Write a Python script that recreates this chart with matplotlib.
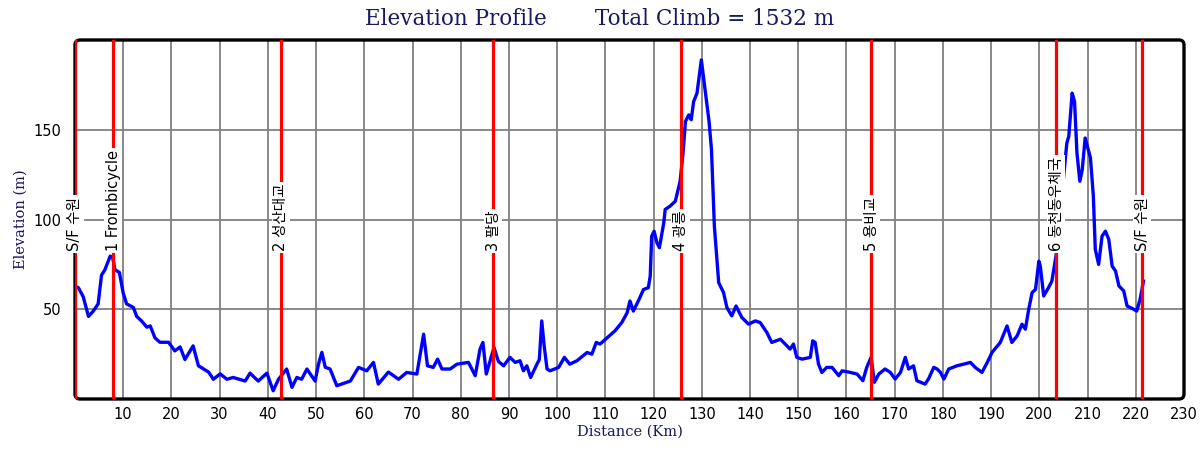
import matplotlib
matplotlib.use("Agg")
import matplotlib.pyplot as plt
from matplotlib.patches import FancyBboxPatch

# ---- data ----
distance_km = [
    0.0, 0.7, 1.7, 2.8, 3.8, 4.8, 5.5, 6.2, 7.3, 7.8, 8.3, 9.2, 10.0, 10.7, 12.1, 12.8,
    13.8, 14.9, 15.6, 16.6, 17.6, 19.4, 20.7, 21.8, 22.8, 24.5, 25.6, 27.7, 28.7, 30.1,
    31.5, 32.8, 35.3, 36.3, 38.0, 39.8, 41.1, 42.2, 43.9, 45.0, 46.0, 47.0, 48.1, 49.8,
    50.5, 51.2, 51.9, 52.9, 54.3, 57.1, 58.8, 60.5, 61.9, 62.9, 65.0, 67.1, 68.8, 70.9,
    72.3, 73.1, 74.3, 75.2, 76.1, 77.8, 79.2, 81.6, 83.0, 84.0, 84.6, 85.3, 86.9, 87.8,
    88.9, 90.2, 91.3, 92.3, 93.0, 93.7, 94.5, 95.8, 96.3, 96.8, 97.3, 97.9, 98.5, 100.3,
    101.5, 102.6, 104.1, 106.2, 107.2, 108.1, 108.9, 112.0, 113.4, 114.5, 115.1, 115.8,
    117.0, 117.9, 118.9, 119.3, 119.6, 120.1, 120.7, 121.2, 122.1, 122.4, 123.4, 124.5,
    125.5, 126.1, 126.6, 127.3, 127.8, 128.3, 129.0, 129.5, 129.9, 130.5, 131.5, 132.0,
    132.6, 133.5, 134.5, 135.2, 136.2, 137.1, 138.3, 139.7, 141.1, 142.1, 143.5, 144.5,
    146.3, 147.3, 148.3, 149.0, 149.7, 150.8, 152.5, 153.0, 153.5, 154.2, 154.9, 155.9,
    157.0, 158.4, 159.1, 160.8, 162.2, 163.4, 164.2, 165.1, 165.8, 166.7, 168.0, 169.1,
    170.1, 171.2, 172.2, 172.9, 173.9, 174.6, 176.3, 177.0, 178.1, 178.8, 179.5, 180.2,
    181.2, 182.9, 184.3, 185.7, 186.7, 188.1, 189.2, 190.2, 191.9, 193.3, 194.3, 195.4,
    196.4, 197.1, 197.8, 198.5, 199.2, 199.9, 200.2, 200.9, 201.9, 202.6, 203.5, 205.7,
    206.1, 206.8, 207.3, 207.8, 208.4, 208.9, 209.5, 210.6, 211.2, 211.6, 212.3, 213.0,
    213.7, 214.4, 215.1, 215.8, 216.5, 217.5, 218.2, 219.3, 220.2, 220.9, 221.6,
]
elevation_m = [
    63, 62, 57, 46, 49, 53, 69, 72, 79.6, 79, 72, 70.5, 59, 53, 51, 46,
    43.5, 40, 40.7, 34, 31.6, 31.6, 26.8, 29, 22, 29.6, 18.5, 15, 11, 14,
    11, 12, 10, 14.4, 10, 14.4, 4.6, 11, 16.7, 6.5, 12, 11, 16.7, 10,
    19.4, 26, 17.7, 16.7, 7.4, 10, 17.6, 15.7, 20.4, 8.3, 15, 11, 14.8, 13.9,
    36.1, 18.5, 17.6, 22.2, 16.7, 16.7, 19.4, 20.4, 13, 27.8, 31.5, 13.9, 28.7, 21,
    18.5, 23.2, 20.4, 21.3, 15.7, 18.5, 12, 19.4, 22, 43.5, 29.6, 16.7, 15.7, 17.6,
    23.2, 19.4, 21.3, 25.9, 25, 31.5, 30.6, 38, 42.6, 48, 54.6, 49,
    55.6, 61, 62, 68.5, 90.7, 93.5, 87, 84.3, 98, 105.6, 107.4, 110.2,
    121.3, 137, 154.6, 158.3, 155.6, 165.7, 170.4, 180.6, 188.9, 176, 154.6, 139,
    96.3, 64.8, 59.3, 51, 46.3, 51.8, 45.4, 41.7, 43.5, 42.6, 37, 31.5,
    33.3, 30.6, 27.8, 30.6, 23.2, 22.2, 23.2, 32.4, 31.5, 19.4, 14.8, 17.6,
    17.6, 13, 15.7, 14.8, 13.9, 10.2, 17.6, 23.2, 9.3, 13.9, 16.7, 14.8,
    11.1, 14.8, 23.2, 16.7, 18.5, 10.2, 8.3, 11.1, 17.6, 16.7, 14.8, 11.1,
    16.7, 18.5, 19.4, 20.4, 17.6, 14.8, 20.4, 26, 31.5, 40.7, 31.5, 35.2,
    41.7, 38.9, 50, 59.3, 61, 76.8, 74, 57.4, 62, 65.7, 80.5, 142.6,
    146.3, 170.4, 165.7, 137, 121.3, 127.8, 145.4, 134.3, 113, 83.3, 75, 90.7,
    93.5, 88.9, 74, 71.3, 63, 60.2, 51.8, 50.4, 49, 55.6, 65.7,
]

marker_km = [0.0, 7.9, 42.7, 86.7, 125.6, 165.1, 203.5, 221.3]
marker_labels = ["S/F 수원", "1 Frombicycle", "2 성산대교", "3 팔당", "4 광릉",
                 "5 용비교", "6 동천동우체국", "S/F 수원"]

x_ticks = list(range(10, 240, 10))
y_ticks = [50, 100, 150]
title_text = "Elevation Profile       Total Climb = 1532 m"
x_label = "Distance (Km)"
y_label = "Elevation (m)"

# ---- figure ----
navy = "#191960"
fig = plt.figure(figsize=(12, 4.5), dpi=100)
ax_l, ax_b, ax_w, ax_h = 75 / 1200, 51 / 450, 1109 / 1200, 359 / 450
ax = fig.add_axes([ax_l, ax_b, ax_w, ax_h])
ax.set_xlim(0, 230)
ax.set_ylim(0, 200)

for s in ax.spines.values():
    s.set_visible(False)

# grid
for xv in x_ticks:
    if xv < 230:
        ax.axvline(xv, color="#808080", lw=1.3, zorder=1)
for yv in y_ticks:
    ax.axhline(yv, color="#808080", lw=1.3, zorder=1)

# frame with rounded corners
frame = FancyBboxPatch((ax_l * 12, ax_b * 4.5), ax_w * 12, ax_h * 4.5,
                       boxstyle="round,pad=0,rounding_size=0.05",
                       transform=fig.dpi_scale_trans, fill=False,
                       edgecolor="black", lw=2.4, clip_on=False, zorder=2.5)
ax.add_artist(frame)

# profile
ax.plot(distance_km, elevation_m, color="#0000ff", lw=2.4, zorder=2, solid_joinstyle="round")

# markers
for xm, lab in zip(marker_km, marker_labels):
    ax.axvline(xm, color="#ff0000", lw=2.3, zorder=3)
    ax.text(xm, 82.5, lab, rotation=90, ha="center", va="bottom", fontsize=10.5,
            family=["DejaVu Sans", "Noto Sans CJK KR"], color="black", zorder=5,
            clip_on=False,
            bbox=dict(boxstyle="square,pad=0.12", facecolor="white", edgecolor="none"))

ax.set_xticks(x_ticks)
ax.set_xticklabels([str(v) for v in x_ticks])
ax.set_yticks(y_ticks)
ax.set_yticklabels([str(v) for v in y_ticks])
ax.tick_params(axis="both", length=0, labelsize=10.5, colors="black")
ax.tick_params(axis="x", pad=6)
ax.tick_params(axis="y", pad=10)

ax.set_xlabel(x_label, family="DejaVu Serif", fontsize=10.5, color=navy, labelpad=2)
ax.set_ylabel(y_label, family="DejaVu Serif", fontsize=10.5, color=navy, labelpad=4)

fig.text(0.5, 0.958, title_text, ha="center", va="center", family="DejaVu Serif",
         fontsize=15.5, color=navy)

fig.savefig("out.png", dpi=100)
